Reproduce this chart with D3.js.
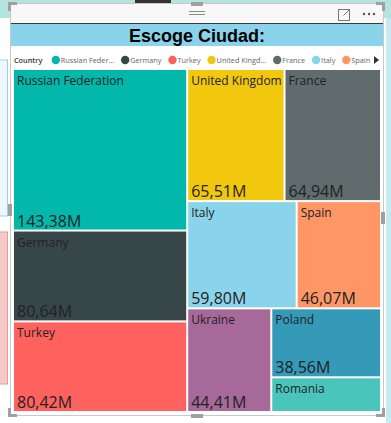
<!DOCTYPE html>
<html><head><meta charset="utf-8">
<script src="https://cdn.jsdelivr.net/npm/d3@7"></script>
<style>
html,body{margin:0;padding:0;background:#fff;overflow:hidden;}
svg{display:block;}
</style></head>
<body>
<svg id="chart" width="391" height="423"></svg>
<script>
const countries = ["Russian Federation","Germany","Turkey","United Kingdom","France","Italy","Spain","Ukraine","Poland","Romania"];
const populations = [143.38,80.64,80.42,65.51,64.94,59.80,46.07,44.41,38.56,19.40];
const legendLabels = ["Russian Feder...","Germany","Turkey","United Kingd...","France","Italy","Spain"];
const palette = ["#01B8AA","#374649","#FD625E","#F2C80F","#5F6B6D","#8AD4EB","#FE9666","#A66999","#3599B8","#4AC5BB"];
const titleText = "Escoge Ciudad:";
const legendTitle = "Country";
const rowSizes = [3,2,2,1,2];

const FONT = "'Segoe UI','Open Sans','Noto Sans',sans-serif";
const svg = d3.select("#chart");

// ---- surrounding report canvas ----
svg.append("rect").attr("x",0).attr("y",0).attr("width",391).attr("height",423).attr("fill","#ffffff");
svg.append("rect").attr("x",0).attr("y",0).attr("width",391).attr("height",18).attr("fill","#b4e4df");
svg.append("rect").attr("x",386).attr("y",18).attr("width",5).attr("height",405).attr("fill","#c6e9f4");
svg.append("rect").attr("x",135).attr("y",0).attr("width",36).attr("height",3).attr("fill","#333");
// left neighbour visuals
svg.append("rect").attr("x",-5).attr("y",60).attr("width",12.5).attr("height",156).attr("fill","#eef8fc").attr("stroke","#9fcfe6");
svg.append("rect").attr("x",-5).attr("y",232).attr("width",12.5).attr("height",152).attr("fill","#f6c9c7").attr("stroke","#e79a98");

// ---- visual container ----
svg.append("rect").attr("x",10.5).attr("y",3.5).attr("width",373).attr("height",412).attr("fill","#fff").attr("stroke","#c8c8c8");
svg.append("rect").attr("x",11).attr("y",4).attr("width",372).attr("height",19).attr("fill","#f8f8f8");
svg.append("line").attr("x1",11).attr("x2",383).attr("y1",23.5).attr("y2",23.5).attr("stroke","#3a3a3a");
svg.append("rect").attr("x",11).attr("y",24).attr("width",372).attr("height",22).attr("fill","#8AD4EB");
svg.append("text").attr("x",197).attr("y",42).attr("text-anchor","middle")
  .attr("font-family","'Liberation Sans',Arial,sans-serif").attr("font-weight","bold").attr("font-size",18)
  .attr("fill","#000").text(titleText);

// header icons
[11,14].forEach(y=>svg.append("line").attr("x1",189).attr("x2",205).attr("y1",y+0.5).attr("y2",y+0.5).attr("stroke","#8a8a8a"));
svg.append("rect").attr("x",338.5).attr("y",9.5).attr("width",11).attr("height",11).attr("fill","none").attr("stroke","#777");
svg.append("path").attr("d","M343.5,15.5 L349.5,9.5 M345,9.5 L349.5,9.5 L349.5,14").attr("fill","none").attr("stroke","#777");
[364,369,374].forEach(x=>svg.append("circle").attr("cx",x).attr("cy",14).attr("r",1.2).attr("fill","#555"));

// handles
const hc = "#a0a0a0";
const handles = [
  [8,2,9,3],[8,2,3,9],[376,2,9,3],[382,2,3,9],
  [8,414,9,3],[8,408,3,9],[376,414,9,3],[382,408,3,9],
  [191,2,12,4],[191,414,12,4],[8,204,4,12],[381,212,4,12]
];
handles.forEach(h=>svg.append("rect").attr("x",h[0]).attr("y",h[1]).attr("width",h[2]).attr("height",h[3]).attr("fill",hc));

// ---- legend ----
const lg = svg.append("g").attr("font-family",FONT).attr("font-size",7.3);
const lt = lg.append("text").attr("x",14).attr("y",62.5).attr("fill","#333").attr("font-weight",600).text(legendTitle);
let cursor = 14 + lt.node().getComputedTextLength() + 9;
legendLabels.forEach((lab,i)=>{
  lg.append("circle").attr("cx",cursor+4.5).attr("cy",60).attr("r",4.2).attr("fill",palette[i]);
  const t = lg.append("text").attr("x",cursor+9.5).attr("y",62.5).attr("fill","#666").text(lab);
  cursor += 9.5 + t.node().getComputedTextLength() + 6.5;
});
lg.append("path").attr("d","M374,56 L379,60 L374,64 Z").attr("fill","#333");

// ---- treemap ----
function tile(parent, x0, y0, x1, y1) {
  const nodes = parent.children;
  let value = parent.value, i = 0;
  for (const k of rowSizes) {
    const kids = nodes.slice(i, i + k);
    const row = {children: kids, value: d3.sum(kids, d => d.value)};
    const dx = x1 - x0, dy = y1 - y0;
    if (dx < dy) { const ny = y0 + dy * row.value / value; d3.treemapDice(row, x0, y0, x1, ny); y0 = ny; }
    else { const nx = x0 + dx * row.value / value; d3.treemapSlice(row, x0, y0, nx, y1); x0 = nx; }
    value -= row.value; i += k;
  }
}
const data = {children: countries.map((c,i)=>({name:c, value:populations[i], color:palette[i]}))};
const root = d3.hierarchy(data).sum(d => d.value || 0).sort((a,b) => b.value - a.value);
d3.treemap().tile(tile).size([366, 341]).paddingInner(2)(root);

const locale = d3.formatLocale({decimal:",", thousands:".", grouping:[3], currency:["","€"]});
const fmt = locale.format(".2f");

const g = svg.append("g").attr("transform","translate(14,70)");
const cell = g.selectAll("g").data(root.leaves()).join("g")
  .attr("transform", d => `translate(${d.x0},${d.y0})`);
cell.append("rect").attr("width", d => d.x1 - d.x0).attr("height", d => d.y1 - d.y0)
  .attr("fill", d => d.data.color);
cell.append("text").attr("x",3).attr("y",15).attr("font-family",FONT).attr("font-size",12)
  .attr("fill","#222").text(d => d.data.name);
cell.filter(d => d.y1 - d.y0 > 50).append("text").attr("x",3).attr("y", d => d.y1 - d.y0 - 3)
  .attr("font-family",FONT).attr("font-size",16).attr("fill","#222")
  .text(d => fmt(d.data.value) + "M");
</script>
</body></html>
